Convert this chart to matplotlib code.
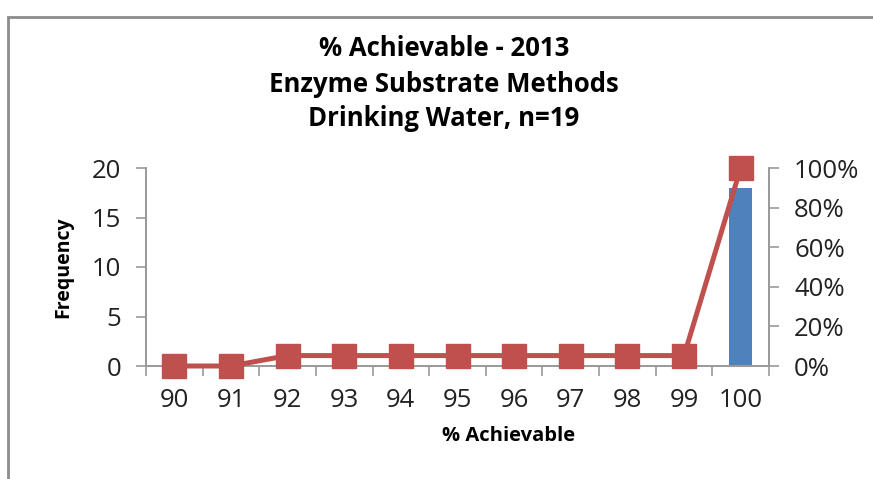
import matplotlib
matplotlib.use("Agg")
import matplotlib.pyplot as plt
from matplotlib.patches import Rectangle
from matplotlib.ticker import PercentFormatter
import numpy as np

# data
categories = ["90", "91", "92", "93", "94", "95", "96", "97", "98", "99", "100"]
frequency = [0, 0, 1, 0, 0, 0, 0, 0, 0, 0, 18]
cumulative_pct = [0, 0, 5.26, 5.26, 5.26, 5.26, 5.26, 5.26, 5.26, 5.26, 100]

plt.rcParams['font.family'] = ['Open Sans', 'DejaVu Sans']

fig = plt.figure(figsize=(8.73, 4.79), dpi=100)
ax = fig.add_axes([146 / 873, 1 - 366 / 479, (769 - 146) / 873, (366 - 168) / 479])

# marco gris del grafico
fig.patches.append(Rectangle((8 / 873, -0.1), 1.2, 1 - 17 / 479 + 0.1,
                             transform=fig.transFigure, fill=False,
                             edgecolor='#8c8c8c', linewidth=2))

x = np.arange(len(categories))
ax.bar(x, frequency, width=0.41, color='#4F81BD', zorder=2)
ax.set_xlim(-0.5, len(categories) - 0.5)
ax.set_ylim(0, 20)
ax.set_yticks([0, 5, 10, 15, 20])
ax.set_xticks(x)
ax.set_xticklabels(categories)
ax.set_xticks(np.arange(-0.5, len(categories)), minor=True)
ax.tick_params(axis='x', which='major', length=0, labelsize=18.5, pad=16)
ax.tick_params(axis='x', which='minor', length=7, color='#999999', width=1.2)
ax.tick_params(axis='y', length=7, color='#999999', width=1.2, labelsize=18.5, pad=11,
               labelcolor='#222222')
ax.tick_params(axis='x', labelcolor='#222222')

ax2 = ax.twinx()
ax2.plot(x, np.array(cumulative_pct) / 100, color='#C0504D', linewidth=3.6,
         marker='s', markersize=17.5, zorder=3, clip_on=False)
ax2.set_ylim(0, 1)
ax2.set_yticks(np.arange(0, 1.01, 0.2))
ax2.yaxis.set_major_formatter(PercentFormatter(1.0, decimals=0))
ax2.tick_params(axis='y', length=7, color='#999999', width=1.2, labelsize=18.5, pad=11,
                labelcolor='#222222')

for a in (ax, ax2):
    a.spines['top'].set_visible(False)
    for side in ('left', 'right', 'bottom'):
        a.spines[side].set_color('#999999')
        a.spines[side].set_linewidth(1.2)

ax.set_ylabel("Frequency", fontsize=14, fontweight='bold', labelpad=13)
fig.text(509 / 873, 1 - 436 / 479, "% Achievable", fontsize=14.5, fontweight='bold',
         ha='center', va='center')

fig.text(444 / 873, 1 - 48 / 479, "% Achievable - 2013", fontsize=18.5, fontweight='bold',
         ha='center', va='center')
fig.text(444 / 873, 1 - 84 / 479, "Enzyme Substrate Methods", fontsize=18.5, fontweight='bold',
         ha='center', va='center')
fig.text(444 / 873, 1 - 118 / 479, "Drinking Water, n=19", fontsize=18.5, fontweight='bold',
         ha='center', va='center')

fig.savefig("out.png", dpi=100)
